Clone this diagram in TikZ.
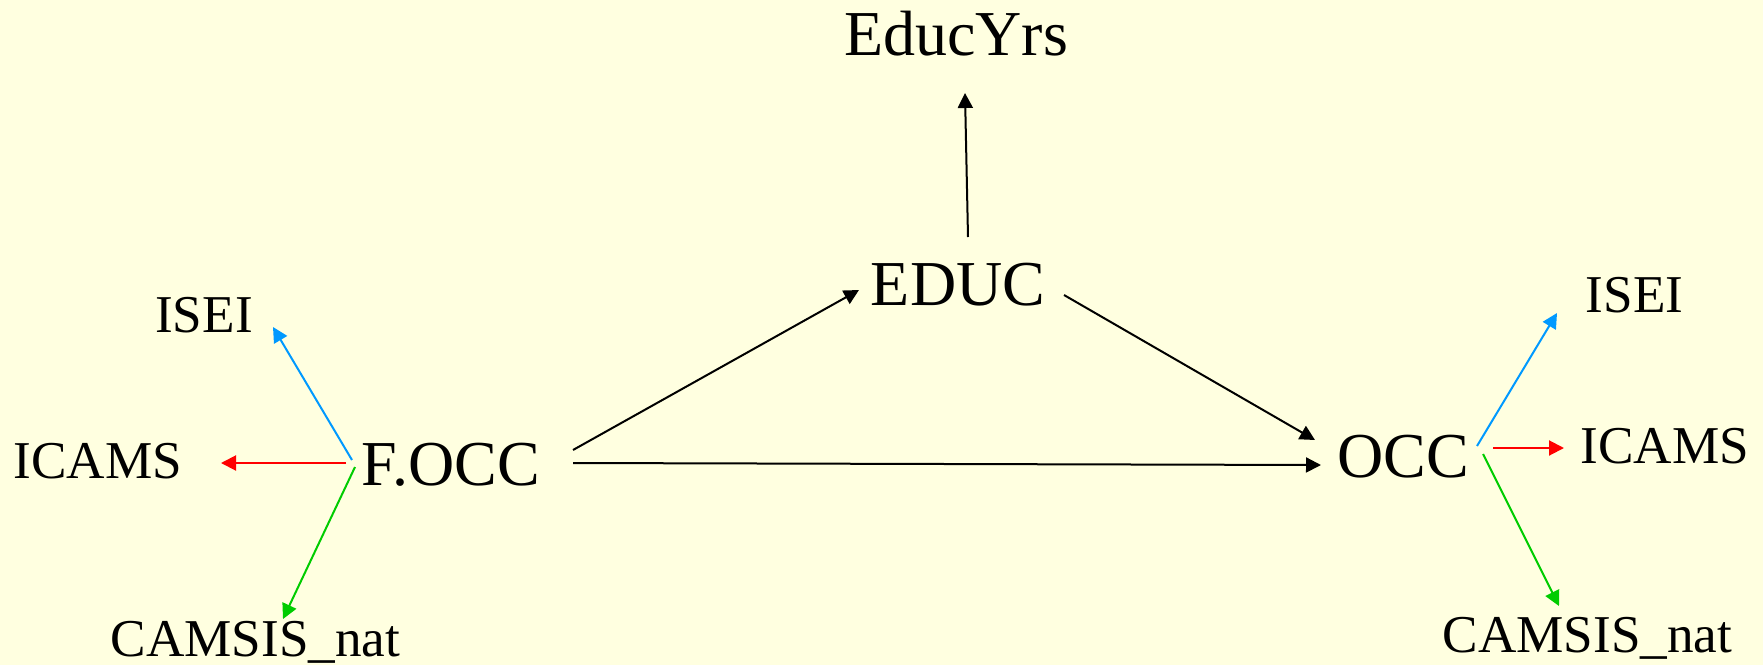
\documentclass[tikz,border=0pt]{standalone}
\usepackage{fontspec}
\setmainfont{Liberation Serif}
\usetikzlibrary{arrows.meta}
\definecolor{bgyellow}{RGB}{255,255,224}
\definecolor{lblue}{RGB}{0,153,255}
\definecolor{lred}{RGB}{255,0,0}
\definecolor{lgreen}{RGB}{0,204,0}
\tikzset{
  big/.style={anchor=base,inner sep=0pt,font=\fontsize{32pt}{36pt}\selectfont},
  small/.style={anchor=base,inner sep=0pt,font=\fontsize{26.6pt}{30pt}\selectfont},
  conn/.style={line width=1pt,-{Triangle[length=7.5pt,width=7.5pt]}},
}
\begin{document}
\begin{tikzpicture}[x=0.5pt,y=-0.5pt]
\fill[bgyellow] (0,0) rectangle (1763,665);
\useasboundingbox (0,0) rectangle (1763,665);
% nodes
\node[big] (yrs) at (956,55) {EducYrs};
\node[big] (educ) at (958,305) {EDUC};
\node[big] (focc) at (451,485) {F.OCC};
\node[big] (occ) at (1403.5,477) {OCC};
\node[small] (isL) at (204,332) {ISEI};
\node[small] (icL) at (98,478) {ICAMS};
\node[small] (caL) at (255.5,656) {CAMSIS\_nat};
\node[small] (isR) at (1634.5,312) {ISEI};
\node[small] (icR) at (1665,463) {ICAMS};
\node[small] (caR) at (1587.5,652) {CAMSIS\_nat};
% black connectors
\draw[conn] ([shift={(10,-68)}]educ.base) -- ([shift={(9,38)}]yrs.base);
\draw[conn] ([shift={(122,-35)}]focc.base) -- ([shift={(-99,-15)}]educ.base);
\draw[conn] ([shift={(106,-10)}]educ.base) -- ([shift={(-88.5,-37)}]occ.base);
\draw[conn] ([shift={(122,-22)}]focc.base) -- ([shift={(-82.5,-12)}]occ.base);
% left indicators
\draw[conn,lblue] ([shift={(-99,-25)}]focc.base) -- ([shift={(69,-5)}]isL.base);
\draw[conn,lred] ([shift={(-105,-22)}]focc.base) -- ([shift={(123,-15)}]icL.base);
\draw[conn,lgreen] ([shift={(-96,-18)}]focc.base) -- ([shift={(27.5,-37)}]caL.base);
% right indicators
\draw[conn,lblue] ([shift={(73.5,-31)}]occ.base) -- ([shift={(-77.5,1)}]isR.base);
\draw[conn,lred] ([shift={(89.5,-29)}]occ.base) -- ([shift={(-101,-15)}]icR.base);
\draw[conn,lgreen] ([shift={(79.5,-23)}]occ.base) -- ([shift={(-28.5,-46)}]caR.base);
\end{tikzpicture}
\end{document}
